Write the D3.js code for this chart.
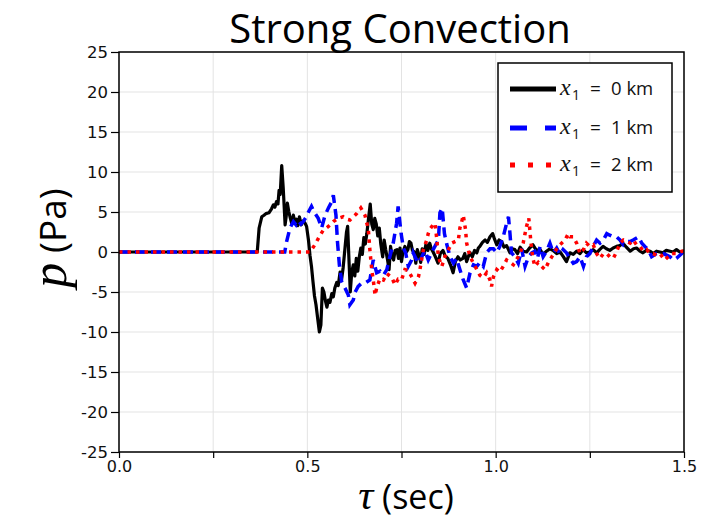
<!DOCTYPE html>
<html><head><meta charset="utf-8">
<script src="https://cdn.jsdelivr.net/npm/d3@7"></script>
<style>body{margin:0;background:#fff}svg{display:block}</style>
</head><body>
<script>
const title = "Strong Convection";
const xTicks = [0, 0.25, 0.5, 0.75, 1.0, 1.25, 1.5];
const xTickLabels = ["0.0", "", "0.5", "", "1.0", "", "1.5"];
const yTicks = [-25,-20,-15,-10,-5,0,5,10,15,20,25];
const seriesNames = ["0", "1", "2"];

const black = [[0,0],[0.367,0],[0.372,3.0],[0.379,4.4],[0.385,4.6],[0.39,4.8],[0.398,4.9],[0.405,5.4],[0.41,5.9],[0.414,5.6],[0.418,6.3],[0.422,6.0],[0.425,7.7],[0.428,7.2],[0.432,10.8],[0.436,8.0],[0.441,3.4],[0.444,4.5],[0.447,6.1],[0.451,5.0],[0.455,4.2],[0.459,3.5],[0.463,4.6],[0.467,3.6],[0.471,4.1],[0.475,3.3],[0.479,4.4],[0.484,3.4],[0.489,3.9],[0.494,3.6],[0.498,3.2],[0.503,1.5],[0.507,-0.4],[0.511,-1.8],[0.515,-3.7],[0.519,-5.5],[0.523,-6.6],[0.528,-8.5],[0.532,-10.0],[0.536,-9.1],[0.540,-4.5],[0.544,-5.0],[0.548,-6.1],[0.552,-6.9],[0.556,-6.0],[0.560,-6.3],[0.565,-5.2],[0.569,-5.6],[0.573,-4.5],[0.578,-3.8],[0.582,-4.2],[0.587,-2.5],[0.591,-3.4],[0.595,-2.0],[0.600,0.5],[0.604,2.5],[0.607,3.2],[0.611,-1.5],[0.614,-5.0],[0.618,-2.5],[0.622,-1.6],[0.626,-3.0],[0.630,-0.8],[0.634,-2.4],[0.638,-0.6],[0.642,0.5],[0.646,-0.3],[0.650,1.8],[0.654,1.0],[0.658,2.3],[0.662,4.0],[0.667,6.0],[0.671,3.5],[0.675,2.8],[0.679,4.2],[0.683,3.5],[0.687,2.0],[0.691,3.0],[0.695,1.0],[0.700,-0.6],[0.704,1.5],[0.708,0.3],[0.713,-1.0],[0.717,-2.2],[0.721,0.7],[0.725,-0.5],[0.729,-1.0],[0.733,0.2],[0.738,0.3],[0.742,-0.8],[0.746,0.5],[0.750,-1.2],[0.754,0.0],[0.759,0.7],[0.763,0.0],[0.767,0.3],[0.771,1.3],[0.775,1.1],[0.779,0.2],[0.784,0.0],[0.788,-1.4],[0.792,0.3],[0.797,-0.5],[0.801,-1.3],[0.805,0.4],[0.810,-0.3],[0.815,1.0],[0.820,0.2],[0.825,1.1],[0.829,0.4],[0.834,0.0],[0.840,-0.6],[0.847,-1.4],[0.853,-0.2],[0.860,0.2],[0.866,-0.5],[0.873,-0.8],[0.880,-1.6],[0.887,-2.6],[0.893,-1.2],[0.900,-0.6],[0.906,-1.0],[0.913,-0.8],[0.918,-0.2],[0.923,-1.2],[0.928,-0.5],[0.932,-0.1],[0.938,-0.6],[0.944,0.2],[0.950,-0.1],[0.954,0.5],[0.958,0.7],[0.965,1.2],[0.972,1.5],[0.978,1.2],[0.985,1.9],[0.992,2.3],[0.997,1.6],[1.003,0.9],[1.009,1.5],[1.016,1.3],[1.022,0.6],[1.029,0.8],[1.038,-0.1],[1.044,0.4],[1.051,0.3],[1.058,-0.2],[1.065,0.6],[1.073,0.1],[1.082,0.0],[1.090,0.5],[1.099,0.9],[1.108,0.2],[1.118,0.3],[1.126,-0.3],[1.135,0.1],[1.144,0.4],[1.152,0.2],[1.162,-0.2],[1.171,0.0],[1.180,-0.6],[1.188,-1.2],[1.197,-0.1],[1.206,-0.3],[1.215,0.1],[1.224,-0.2],[1.232,0.3],[1.241,-0.1],[1.250,0.0],[1.259,0.3],[1.268,-0.1],[1.276,0.3],[1.285,0.7],[1.294,0.4],[1.303,0.2],[1.312,0.5],[1.321,0.7],[1.330,0.8],[1.338,1.1],[1.347,0.6],[1.357,0.1],[1.366,0.4],[1.374,0.5],[1.383,0.1],[1.391,-0.1],[1.400,0.2],[1.410,0.1],[1.418,-0.2],[1.427,0.1],[1.436,0.0],[1.444,-0.1],[1.453,0.2],[1.463,0.1],[1.471,0.0],[1.480,0.3],[1.489,0.0],[1.497,0.1],[1.5,0.1]];

const blue = [[0,0],[0.440,0],[0.445,1.3],[0.454,3.0],[0.463,3.8],[0.470,3.4],[0.476,3.9],[0.483,3.5],[0.489,3.8],[0.496,4.3],[0.503,5.0],[0.511,5.7],[0.518,5.0],[0.529,4.2],[0.538,3.0],[0.547,4.6],[0.556,5.5],[0.565,6.3],[0.569,7.1],[0.576,4.6],[0.580,1.3],[0.585,-1.6],[0.591,-3.7],[0.600,-4.5],[0.609,-5.4],[0.613,-6.6],[0.622,-6.0],[0.627,-5.0],[0.635,-4.3],[0.644,-3.9],[0.653,-3.9],[0.666,-3.5],[0.675,-1.0],[0.684,-2.6],[0.693,-2.4],[0.702,-2.9],[0.711,-2.2],[0.719,-0.6],[0.728,1.1],[0.737,3.6],[0.741,5.7],[0.749,2.3],[0.755,0.5],[0.761,-0.1],[0.768,-1.8],[0.777,-1.0],[0.781,-0.1],[0.788,-0.8],[0.795,-1.4],[0.804,-0.6],[0.812,0.2],[0.821,-1.0],[0.828,-0.3],[0.834,0.3],[0.848,1.5],[0.852,4.9],[0.858,5.5],[0.864,2.3],[0.870,1.0],[0.879,-0.6],[0.888,-1.4],[0.896,-0.8],[0.905,-2.2],[0.914,-3.5],[0.923,-4.5],[0.932,-2.6],[0.941,-1.6],[0.950,-1.8],[0.958,-1.3],[0.967,-1.8],[0.976,-0.1],[0.985,0.4],[0.994,0.4],[1.003,-0.1],[1.011,0.7],[1.020,1.9],[1.027,3.2],[1.034,4.4],[1.038,2.3],[1.042,-0.1],[1.051,-0.6],[1.060,-1.4],[1.069,0.4],[1.078,-1.8],[1.087,-0.6],[1.096,-0.1],[1.104,0.1],[1.111,-0.8],[1.118,0.7],[1.126,-0.6],[1.135,0.1],[1.144,1.1],[1.153,-0.1],[1.162,0.5],[1.171,-0.3],[1.179,0.3],[1.188,-0.1],[1.197,-0.8],[1.206,-1.4],[1.215,-1.2],[1.224,-0.6],[1.233,-1.8],[1.241,-0.6],[1.250,-0.2],[1.259,0.7],[1.268,1.5],[1.277,1.1],[1.286,1.5],[1.295,2.3],[1.303,2.1],[1.312,1.9],[1.321,1.9],[1.330,1.5],[1.339,0.9],[1.348,1.3],[1.357,1.3],[1.365,1.5],[1.379,1.9],[1.388,1.1],[1.396,0.7],[1.405,0.3],[1.414,-0.6],[1.427,-0.2],[1.445,-0.2],[1.463,-0.6],[1.472,-1.0],[1.480,-0.8],[1.494,-0.2],[1.5,0.1]];

const red = [[0,0],[0.507,0],[0.520,0.9],[0.534,2.1],[0.542,2.7],[0.556,3.2],[0.569,3.8],[0.582,4.2],[0.595,4.4],[0.604,4.1],[0.613,4.0],[0.622,4.4],[0.631,4.8],[0.642,5.5],[0.653,4.6],[0.662,2.8],[0.666,0.3],[0.671,-2.2],[0.675,-3.5],[0.680,-5.4],[0.684,-4.5],[0.693,-3.3],[0.702,-3.5],[0.711,-2.7],[0.724,-3.2],[0.733,-4.1],[0.741,-3.4],[0.750,-3.5],[0.759,-2.2],[0.768,-2.3],[0.777,-3.1],[0.786,-3.9],[0.795,-3.1],[0.799,-2.2],[0.808,0.3],[0.817,1.5],[0.821,2.3],[0.826,2.9],[0.834,3.4],[0.839,3.6],[0.843,1.9],[0.848,-0.6],[0.857,-1.8],[0.865,-0.6],[0.874,0.2],[0.883,1.1],[0.892,1.3],[0.901,1.5],[0.905,3.0],[0.910,3.8],[0.914,4.6],[0.920,2.8],[0.923,1.1],[0.932,-0.6],[0.941,-1.4],[0.950,-2.2],[0.958,-2.9],[0.967,-3.2],[0.976,-2.6],[0.985,-3.5],[0.989,-4.3],[0.994,-3.1],[1.003,-2.2],[1.011,-2.5],[1.020,-1.8],[1.029,-1.0],[1.038,-1.3],[1.047,-1.6],[1.056,-0.9],[1.065,-0.2],[1.073,1.1],[1.078,2.3],[1.082,3.2],[1.088,4.2],[1.093,1.5],[1.098,-0.6],[1.104,-1.8],[1.113,-1.3],[1.122,-1.8],[1.131,-2.2],[1.140,-1.3],[1.149,-0.6],[1.157,0.0],[1.166,0.7],[1.175,1.1],[1.184,1.5],[1.193,2.3],[1.197,1.9],[1.206,1.9],[1.215,1.1],[1.224,-0.2],[1.233,0.3],[1.241,1.1],[1.250,0.7],[1.259,0.9],[1.268,-0.2],[1.277,-0.8],[1.286,-0.2],[1.295,-0.2],[1.303,-0.6],[1.312,-0.8],[1.321,0.0],[1.330,1.1],[1.339,1.5],[1.348,1.3],[1.357,1.1],[1.365,1.5],[1.374,0.9],[1.383,0.7],[1.392,0.1],[1.401,0.3],[1.410,-0.2],[1.418,-0.2],[1.427,-0.4],[1.436,-0.2],[1.449,-1.0],[1.458,-0.6],[1.467,-0.2],[1.480,-0.2],[1.494,0.1],[1.5,0.1]];

const W = 710, H = 520;
const L = 119, R = 684, T = 52, B = 452;

const svg = d3.select("body").append("svg").attr("width", W).attr("height", H);
const x = d3.scaleLinear().domain([0, 1.5]).range([L, R]);
const y = d3.scaleLinear().domain([-25, 25]).range([B, T]);

// grid
svg.append("g").selectAll("line").data(xTicks).join("line")
  .attr("x1", d => x(d)).attr("x2", d => x(d)).attr("y1", T).attr("y2", B)
  .attr("stroke", "#e3e3e3").attr("stroke-width", 1);
svg.append("g").selectAll("line").data(yTicks).join("line")
  .attr("x1", L).attr("x2", R).attr("y1", d => y(d)).attr("y2", d => y(d))
  .attr("stroke", "#e3e3e3").attr("stroke-width", 1);

// axes
const xAxis = d3.axisBottom(x).tickValues(xTicks).tickFormat((d, i) => xTickLabels[i]).tickSize(6).tickPadding(3);
const gx = svg.append("g").attr("transform", `translate(0,${B})`).call(xAxis);
gx.select(".domain").remove();
gx.selectAll("line").attr("stroke", "#000").attr("stroke-width", 1.2);
gx.selectAll("text").attr("font-family", "DejaVu Sans").attr("font-size", 16).attr("fill", "#111");

const yAxis = d3.axisLeft(y).tickValues(yTicks).tickFormat(d => String(d)).tickSize(8).tickPadding(3);
const gy = svg.append("g").attr("transform", `translate(${L},0)`).call(yAxis);
gy.select(".domain").remove();
gy.selectAll("line").attr("stroke", "#000").attr("stroke-width", 1.2);
gy.selectAll("text").attr("font-family", "DejaVu Sans").attr("font-size", 16.5).attr("fill", "#111");

// clip
svg.append("clipPath").attr("id", "clip").append("rect")
  .attr("x", L).attr("y", T).attr("width", R - L).attr("height", B - T);

const line = d3.line().x(d => x(d[0])).y(d => y(d[1]));
const plot = svg.append("g").attr("clip-path", "url(#clip)");
plot.append("path").datum(black).attr("d", line).attr("fill", "none")
  .attr("stroke", "#000").attr("stroke-width", 3.2).attr("stroke-linejoin", "round");
plot.append("path").datum(blue).attr("d", line).attr("fill", "none")
  .attr("stroke", "#0000ff").attr("stroke-width", 3.5).attr("stroke-dasharray", "10,6");
plot.append("path").datum(red).attr("d", line).attr("fill", "none")
  .attr("stroke", "#ff0000").attr("stroke-width", 3.5).attr("stroke-dasharray", "3.5,5");

// frame
svg.append("rect").attr("x", L).attr("y", T).attr("width", R - L).attr("height", B - T)
  .attr("fill", "none").attr("stroke", "#000").attr("stroke-width", 1.5);

// legend
const lg = svg.append("g");
lg.append("rect").attr("x", 498).attr("y", 63).attr("width", 174).attr("height", 129)
  .attr("fill", "#fff").attr("stroke", "#000").attr("stroke-width", 1.5);
const legStyles = [
  {c: "#000", w: 5, dash: null},
  {c: "#0000ff", w: 5, dash: "17,18"},
  {c: "#ff0000", w: 5, dash: "5,13"}
];
const legY = [89, 128, 165];
seriesNames.forEach((n, i) => {
  const s = legStyles[i];
  const ln = lg.append("line").attr("x1", 510).attr("x2", 556).attr("y1", legY[i]).attr("y2", legY[i])
    .attr("stroke", s.c).attr("stroke-width", s.w);
  if (s.dash) ln.attr("stroke-dasharray", s.dash);
  const base = legY[i] + 6;
  const t = lg.append("text").attr("y", base).attr("fill", "#111");
  t.append("tspan").attr("x", 560).attr("font-family", "Liberation Serif").attr("font-style", "italic").attr("font-size", 24).text("x");
  t.append("tspan").attr("x", 572).attr("y", base + 5).attr("font-family", "Open Sans").attr("font-size", 14).text("1");
  t.append("tspan").attr("x", 590).attr("y", base).attr("font-family", "Open Sans").attr("font-size", 19).text("=");
  t.append("tspan").attr("x", 611).attr("y", base).attr("font-family", "Open Sans").attr("font-size", 18.5).text(n + " km");
});

// title
svg.append("text").attr("x", 400).attr("y", 43).attr("text-anchor", "middle")
  .attr("font-family", "Open Sans").attr("font-size", 40).attr("fill", "#000").text(title);

// x label
const xl = svg.append("text").attr("x", 406).attr("y", 509).attr("text-anchor", "middle").attr("fill", "#000");
xl.append("tspan").attr("font-family", "Liberation Serif").attr("font-style", "italic").attr("font-size", 42).text("τ");
xl.append("tspan").attr("font-family", "Open Sans").attr("font-size", 34).text(" (sec)");

// y label
const yl = svg.append("text").attr("transform", "translate(66,238) rotate(-90)").attr("text-anchor", "middle").attr("fill", "#000");
yl.append("tspan").attr("font-family", "Liberation Serif").attr("font-style", "italic").attr("font-size", 50).text("p");
yl.append("tspan").attr("font-family", "Open Sans").attr("font-size", 37).text(" (Pa)");
</script>
</body></html>
